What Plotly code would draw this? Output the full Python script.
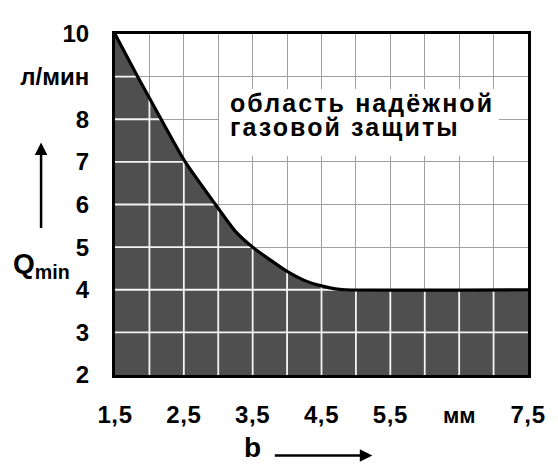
import numpy as np
import plotly.graph_objects as go

# ---- data ----
b_mm = [1.5, 1.83, 2.17, 2.52, 2.96, 3.25, 3.5, 4.0, 4.25, 4.5, 4.7, 4.85, 7.5]
q_min = [10.0, 9.0, 8.0, 7.0, 6.0, 5.37, 5.0, 4.43, 4.22, 4.09, 4.02, 4.0, 4.0]

x_tick_vals = [1.5, 2.5, 3.5, 4.5, 5.5, 6.5, 7.5]
x_tick_labels = ["1,5", "2,5", "3,5", "4,5", "5,5", "мм", "7,5"]
y_tick_vals = [2, 3, 4, 5, 6, 7, 8, 9, 10]
y_tick_labels = ["2", "3", "4", "5", "6", "7", "8", "л/мин", "10"]

region_text = ["область надёжной", "газовой защиты"]

x_range = [1.5, 7.5]
y_range = [2, 10]
x_grid_step = 0.5
y_grid_step = 1.0

FONT = "Liberation Sans"
FILL = "#4f4f4f"

fig = go.Figure()

# filled region under the curve
fig.add_trace(go.Scatter(
    x=b_mm, y=q_min, mode="lines", fill="tozeroy", fillcolor=FILL,
    line=dict(color="rgba(0,0,0,0)", width=0, shape="spline", smoothing=0.6),
    hoverinfo="skip", showlegend=False))

# white grid segments inside the dark region
xs, ys = [], []
bx = np.array(b_mm)
qy = np.array(q_min)
for gx in np.arange(x_range[0] + x_grid_step, x_range[1] - 1e-9, x_grid_step):
    top = float(np.interp(gx, bx, qy))
    xs += [gx, gx, None]
    ys += [y_range[0], top, None]
n_dec = int(np.argmax(qy <= min(q_min))) + 1
dec_x = bx[:n_dec]
dec_y = qy[:n_dec]
for gy in np.arange(y_range[0] + y_grid_step, y_range[1] - 1e-9, y_grid_step):
    if gy <= min(q_min):
        right = x_range[1]
    else:
        right = float(np.interp(gy, dec_y[::-1], dec_x[::-1]))
    xs += [x_range[0], right, None]
    ys += [gy, gy, None]
fig.add_trace(go.Scatter(x=xs, y=ys, mode="lines",
                         line=dict(color="#f4f4f4", width=1.8),
                         hoverinfo="skip", showlegend=False))

# curve
fig.add_trace(go.Scatter(x=b_mm, y=q_min, mode="lines",
                         line=dict(color="black", width=3.2, shape="spline", smoothing=0.6),
                         hoverinfo="skip", showlegend=False))

LS = "letter-spacing:0.6px"
xt = []
for t in x_tick_labels:
    if t == "мм":
        xt.append(f"<span style='font-size:22px'>{t}</span>")
    else:
        xt.append(f"<span style='{LS}'>{t}</span>")

# the page body has an 8px margin: figure is shifted by 8px right/down
fig.update_layout(
    width=550, height=457,
    margin=dict(l=105, r=21, t=15, b=90),
    paper_bgcolor="white", plot_bgcolor="white",
    font=dict(family=FONT, color="black", size=24, weight="bold"),
    xaxis=dict(range=x_range, tickvals=x_tick_vals, ticktext=xt, ticks="",
               showgrid=True, gridcolor="#a0a0a0", gridwidth=1,
               minor=dict(dtick=x_grid_step, tick0=x_range[0], showgrid=True,
                          gridcolor="#a0a0a0", gridwidth=1),
               showline=True, linecolor="black", linewidth=3, mirror=True,
               zeroline=False, layer="above traces", ticklabelstandoff=16,
               tickfont=dict(size=24, family=FONT, weight="bold")),
    yaxis=dict(range=y_range, tickvals=y_tick_vals, ticktext=y_tick_labels, ticks="",
               showgrid=True, gridcolor="#a0a0a0", gridwidth=1,
               showline=True, linecolor="black", linewidth=3, mirror=True,
               zeroline=False, layer="above traces", ticklabelstandoff=18,
               tickfont=dict(size=24, family=FONT, weight="bold")),
    showlegend=False,
)

# white background box behind the region label
fig.add_annotation(text=" ", xref="paper", yref="paper", x=0.252, y=0.838,
                   xanchor="left", yanchor="top", width=280, height=67,
                   bgcolor="white", borderpad=0, borderwidth=0, showarrow=False)

for i, line in enumerate(region_text):
    fig.add_annotation(
        text=f"<span style='letter-spacing:2.1px'>{line}</span>",
        xref="paper", yref="paper", x=0.2736, y=0.797 - 0.071 * i,
        xanchor="left", yanchor="middle", showarrow=False,
        font=dict(size=25, family=FONT, weight="bold", color="black"))

fig.add_annotation(text="Q<sub>min</sub>", xref="paper", yref="paper",
                   x=-0.179, y=0.321, xanchor="center", yanchor="middle",
                   showarrow=False, font=dict(size=28, family=FONT, weight="bold"))
fig.add_annotation(text="", xref="paper", yref="paper", x=-0.179, y=0.682,
                   ax=0, ay=87, showarrow=True, arrowhead=2, arrowsize=1,
                   arrowwidth=2.5, arrowcolor="black")
fig.add_annotation(text="b", xref="paper", yref="paper", x=0.333, y=-0.213,
                   xanchor="center", yanchor="middle", showarrow=False,
                   font=dict(size=28, family=FONT, weight="bold"))
fig.add_annotation(text="", xref="paper", yref="paper", x=0.623, y=-0.236,
                   ax=-99, ay=0, showarrow=True, arrowhead=2, arrowsize=1,
                   arrowwidth=2.5, arrowcolor="black")

fig.write_html("out.html")
